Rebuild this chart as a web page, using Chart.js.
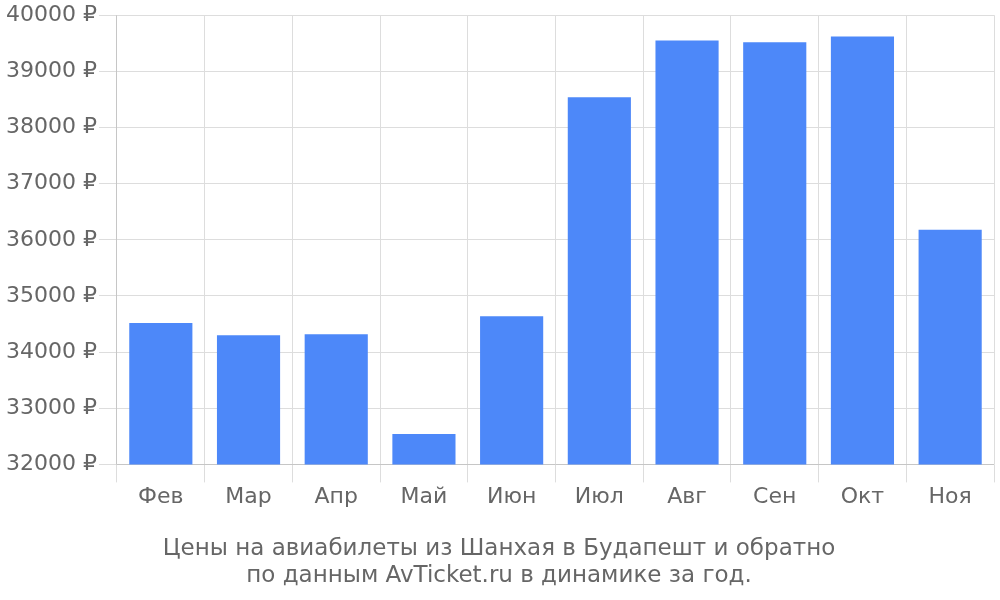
<!DOCTYPE html>
<html>
<head>
<meta charset="utf-8">
<script src="https://cdn.jsdelivr.net/npm/chart.js@4"></script>
<style>
  body { margin: 0; background: #fff; }
  #wrap { width: 1000px; height: 600px; }
</style>
</head>
<body>
<div id="wrap"><canvas id="priceChart"></canvas></div>
<script>
// Month labels and prices
const months = ['Фев', 'Мар', 'Апр', 'Май', 'Июн', 'Июл', 'Авг', 'Сен', 'Окт', 'Ноя'];
const prices = [34520, 34300, 34320, 32540, 34640, 38540, 39550, 39520, 39620, 36180];
const titleLines = ['Цены на авиабилеты из Шанхая в Будапешт и обратно', 'по данным AvTicket.ru в динамике за год.'];

Chart.defaults.font.family = 'DejaVu Sans';
Chart.defaults.color = '#666';

new Chart(document.getElementById('priceChart').getContext('2d'), {
    type: 'bar',
    data: {
        labels: months,
        datasets: [{
            data: prices,
            backgroundColor: '#4d88f9',
            barPercentage: 0.72,
            categoryPercentage: 1
        }]
    },
    options: {
        responsive: true,
        maintainAspectRatio: false,
        animation: false,
        layout: { padding: { top: 4, right: 6, bottom: 10, left: 4 } },
        plugins: {
            legend: { display: false },
            tooltip: { enabled: false },
            title: {
                display: true,
                position: 'bottom',
                text: titleLines,
                font: { size: 23, weight: 'normal', lineHeight: 1.2 },
                padding: { top: 22, bottom: 0 }
            }
        },
        scales: {
            x: {
                grid: { offset: true, color: '#ddd', tickLength: 18 },
                ticks: { font: { size: 22 }, padding: 2 }
            },
            y: {
                min: 32000,
                max: 40000,
                grid: { color: '#ddd', tickLength: 18 },
                ticks: {
                    stepSize: 1000,
                    font: { size: 22 },
                    padding: 2,
                    callback: v => v + ' ₽'
                }
            }
        }
    }
});
</script>
</body>
</html>
